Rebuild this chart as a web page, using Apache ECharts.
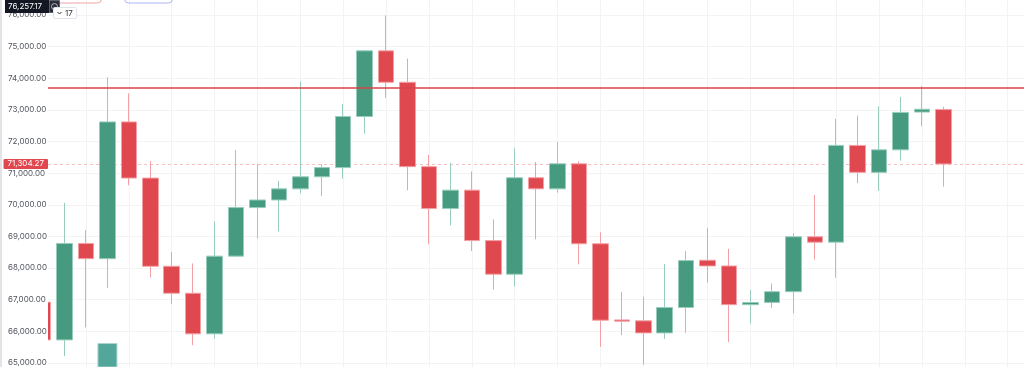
<!DOCTYPE html>
<html>
<head>
<meta charset="utf-8">
<script src="https://cdn.jsdelivr.net/npm/echarts@6/dist/echarts.min.js"></script>
<style>html,body{margin:0;padding:0;background:#fff;}#c{width:1024px;height:367px;}</style>
</head>
<body>
<div id="c"></div>
<script>
// ---- data ----
const candleIndex = [0,1,2,3,4,5,6,7,8,9,10,11,12,13,14,15,16,17,18,19,20,21,22,23,24,25,26,27,28,29,30,31,32,33,34,35,36,37,38,39,40,41,42];
const openValues  = [66950,65760,68800,68320,72630,70860,68080,67230,65950,68400,69930,70170,70520,70900,71190,72800,74870,73880,71220,69900,70480,68890,67830,70870,70520,71310,68790,66390,66360,65980,66780,68270,68090,66870,66940,67280,69010,68840,71890,71040,71750,72940,73020];
const closeValues = [65760,68800,68320,72630,70860,68080,67230,65950,68400,69930,70170,70520,70900,71190,72800,74870,73880,71220,69900,70480,68890,67830,70870,70520,71310,68790,66380,66350,65980,66780,68260,68090,66870,66940,67280,69010,68840,71890,71040,71750,72930,73030,71304.27];
const lowValues   = [65750,65250,66150,67390,70630,67730,66890,65590,65800,68380,68950,69180,70380,70300,70840,72260,73390,70470,68770,69370,68560,67350,67440,68930,70400,68140,65540,65910,64980,65790,65980,67560,65690,66270,66760,66600,68290,67720,70700,70450,71410,72490,70590];
const highValues  = [66960,70080,69220,74040,73530,71400,68530,68170,69500,71750,71300,70770,73900,71300,73190,74900,75990,74630,71590,71340,71070,69560,71800,71370,72000,71390,69150,67270,67120,68150,68560,69290,68630,67340,67540,69120,70330,72730,72830,73120,73420,73760,73110];
const priceTicks = [65000,66000,67000,68000,69000,70000,71000,72000,73000,74000,75000,76000];
const gridlineIndex = [2,4,6,8,10,12,14,16,18,20,22,24,26,28,31,33,35,37,39,41,43,45];
const overlayBarIndex = [3];
const overlayBarValue = [65660];
const resistanceLevel = 73720;
const lastPrice = 71304.27;
const cursorPriceText = '76,257.17';
const badgeText = '17';

const fmt = v => v.toLocaleString('en-US', {minimumFractionDigits: 2, maximumFractionDigits: 2});

const candleData = candleIndex.map((x, i) => [x, openValues[i], closeValues[i], lowValues[i], highValues[i]]);
const overlayData = overlayBarIndex.map((x, i) => [x, overlayBarValue[i]]);
const lastPoint = [[candleIndex[candleIndex.length - 1], lastPrice]];

const FONT = 'Inter, Roboto, sans-serif';
const chart = echarts.init(document.getElementById('c'), null, {renderer: 'canvas'});

chart.setOption({
  animation: false,
  backgroundColor: '#ffffff',
  grid: [
    {left: 48, right: 0, top: 0, bottom: 0},
    {left: 48, right: 0, top: 15, bottom: 3}
  ],
  xAxis: [
    {gridIndex: 0, type: 'value', min: 0.227, max: 45.76, show: false, splitLine: {show: false}},
    {gridIndex: 1, type: 'value', min: 0, max: 1, show: false}
  ],
  yAxis: [
    {gridIndex: 0, type: 'value', min: 64905.4, max: 76472.8, show: false, splitLine: {show: false}},
    {gridIndex: 1, type: 'value', position: 'left', min: priceTicks[0], max: priceTicks[priceTicks.length - 1], interval: 1000, z: 0,
      axisLine: {show: false}, axisTick: {show: false}, axisLabel: {show: false},
      splitLine: {show: true, lineStyle: {color: '#f3f3f4', width: 1}}
    },
    {gridIndex: 1, type: 'value', position: 'left', offset: 0, min: priceTicks[0], max: priceTicks[priceTicks.length - 1], interval: 1000, z: 50,
      axisLine: {show: false}, axisTick: {show: false}, splitLine: {show: false},
      axisLabel: {align: 'left', margin: 40, fontSize: 8, fontFamily: FONT, color: '#51545e', formatter: v => fmt(v)}
    }
  ],
  series: [
    {
      type: 'line', xAxisIndex: 0, yAxisIndex: 0,
      data: lastPoint,
      showSymbol: false, symbol: 'none', lineStyle: {opacity: 0}, silent: true, clip: false,
      markLine: {
        silent: true, z: 1, symbol: ['none', 'none'], animation: false,
        label: {show: false},
        data: gridlineIndex.map(x => ({xAxis: x, lineStyle: {color: '#f3f3f4', width: 1, type: 'solid'}}))
          .concat([{yAxis: lastPrice, lineStyle: {color: '#f4c0c3', width: 1, type: [3, 3]}}])
      }
    },
    {
      type: 'line', xAxisIndex: 0, yAxisIndex: 0,
      data: lastPoint,
      showSymbol: false, symbol: 'none', lineStyle: {opacity: 0}, silent: true, clip: false,
      markLine: {
        silent: true, z: 60, symbol: ['none', 'none'], animation: false,
        data: [{
          yAxis: lastPrice,
          lineStyle: {color: 'rgba(0,0,0,0)', width: 0},
          label: {show: true, position: 'start', distance: 0, formatter: fmt(lastPrice),
            backgroundColor: '#e0474e', color: '#ffffff', padding: [1, 4, 1, 4], fontSize: 8, fontFamily: FONT, borderRadius: 1}
        }]
      }
    },
    {
      type: 'bar', xAxisIndex: 0, yAxisIndex: 0,
      data: overlayData, barWidth: 20, z: 2,
      itemStyle: {color: '#52a69a', borderColor: '#a9d6cf', borderWidth: 1}
    },
    {
      type: 'candlestick', xAxisIndex: 0, yAxisIndex: 0,
      data: candleData, barWidth: 16, z: 3,
      itemStyle: {
        color: '#469a80', color0: '#e0484f',
        borderColor: '#98cdbd', borderColor0: '#f2a0a4', borderWidth: 1
      },
      markLine: {
        silent: true, z: 5, symbol: ['none', 'none'], animation: false,
        label: {show: false},
        data: [{yAxis: resistanceLevel, lineStyle: {color: '#d9434a', width: 1.5, type: 'solid'}}]
      }
    }
  ],
  graphic: [
    {type: 'rect', z: 10, shape: {x: 0, y: 0, width: 48, height: 367}, style: {fill: '#ffffff'}},
    {type: 'rect', z: 100, shape: {x: 0, y: 0, width: 2, height: 367}, style: {fill: '#e4e4e6'}},
    {type: 'rect', z: 100, shape: {x: 53.5, y: -12, width: 48, height: 15, r: 4}, style: {fill: 'none', stroke: '#f0a3a6', lineWidth: 1}},
    {type: 'rect', z: 100, shape: {x: 124.5, y: -12, width: 48, height: 15, r: 4}, style: {fill: 'none', stroke: '#aab6f2', lineWidth: 1}},
    {type: 'rect', z: 100, shape: {x: 5, y: 0, width: 44, height: 13}, style: {fill: '#131722'}},
    {type: 'text', z: 101, x: 8, y: 7, style: {text: cursorPriceText, fill: '#ffffff', font: '8px ' + FONT, verticalAlign: 'middle', align: 'left'}},
    {type: 'rect', z: 100, shape: {x: 49.5, y: 0.5, width: 10, height: 12}, style: {fill: '#2a2e39', stroke: '#5d606b', lineWidth: 1}},
    {type: 'circle', z: 101, shape: {cx: 54.5, cy: 6.5, r: 3}, style: {fill: 'none', stroke: '#b2b5be', lineWidth: 1}},
    {type: 'rect', z: 102, shape: {x: 53.5, y: 7.5, width: 23, height: 11, r: 1}, style: {fill: '#ffffff', stroke: '#e0e3eb', lineWidth: 1}},
    {type: 'polyline', z: 103, shape: {points: [[57.5, 12], [59.5, 14], [61.5, 12]]}, style: {fill: 'none', stroke: '#333', lineWidth: 1}},
    {type: 'text', z: 103, x: 65, y: 13.5, style: {text: badgeText, fill: '#333333', font: '8px ' + FONT, verticalAlign: 'middle', align: 'left'}}
  ]
});
</script>
</body>
</html>
